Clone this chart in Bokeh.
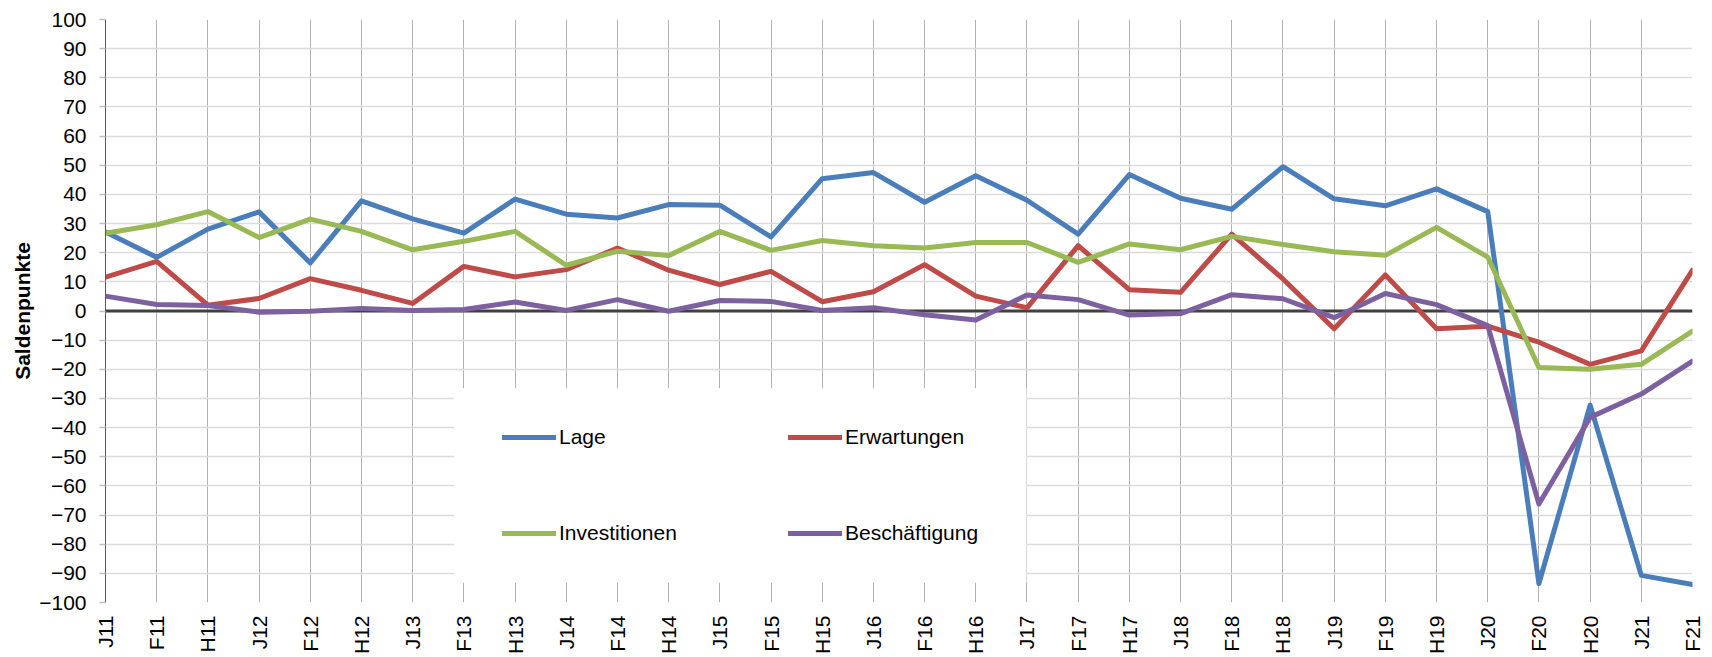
import math
from bokeh.plotting import figure
from bokeh.models import (Range1d, FixedTicker, Span, Legend, LegendItem,
                          BoxAnnotation, ColumnDataSource)
from bokeh.embed import file_html
from bokeh.resources import INLINE

categories = ["J11", "F11", "H11", "J12", "F12", "H12", "J13", "F13", "H13",
              "J14", "F14", "H14", "J15", "F15", "H15", "J16", "F16", "H16",
              "J17", "F17", "H17", "J18", "F18", "H18", "J19", "F19", "H19",
              "J20", "F20", "H20", "J21", "F21"]

lage = [27.1, 18.4, 28.1, 34.0, 16.5, 37.8, 31.6, 26.7, 38.4, 33.2, 31.9, 36.5,
        36.3, 25.4, 45.4, 47.5, 37.3, 46.4, 38.0, 26.4, 46.8, 38.7, 34.9, 49.5,
        38.5, 36.1, 41.9, 34.1, -93.5, -32.3, -90.7, -93.8]
erwartungen = [11.6, 17.0, 2.0, 4.3, 11.1, 7.1, 2.6, 15.3, 11.7, 14.2, 21.6, 14.0,
               9.1, 13.6, 3.2, 6.6, 15.9, 5.1, 1.1, 22.4, 7.3, 6.4, 26.4, 11.0,
               -6.1, 12.4, -6.1, -5.2, -10.7, -18.3, -13.7, 14.0]
investitionen = [26.7, 29.6, 34.1, 25.2, 31.5, 27.3, 21.0, 23.9, 27.3, 15.7, 20.5, 19.0,
                 27.3, 20.8, 24.2, 22.4, 21.6, 23.5, 23.5, 16.7, 23.0, 21.0, 25.6, 22.8,
                 20.3, 19.1, 28.7, 18.5, -19.4, -20.0, -18.3, -6.9]
beschaeftigung = [5.1, 2.2, 1.9, -0.4, -0.1, 0.9, 0.2, 0.5, 3.1, 0.2, 3.9, -0.1,
                  3.6, 3.3, 0.2, 1.1, -1.3, -3.1, 5.5, 3.9, -1.4, -0.9, 5.6, 4.2,
                  -2.3, 6.0, 2.2, -5.0, -66.2, -36.5, -28.5, -17.2]

series_names = ["Lage", "Erwartungen", "Investitionen", "Beschäftigung"]
series_colors = ["#4A7EBB", "#BE4B48", "#98B954", "#7D60A0"]

FONT = "Liberation Sans"
x_idx = list(range(len(categories)))

p = figure(width=1712, height=657, output_backend="svg", toolbar_location=None,
           x_range=Range1d(0, len(categories) - 1), y_range=Range1d(-100, 100),
           min_border_left=105, min_border_right=20, min_border_top=19,
           min_border_bottom=53)
p.outline_line_color = None
p.background_fill_color = "white"
p.border_fill_color = "white"

# grids
p.xgrid.ticker = FixedTicker(ticks=x_idx)
p.xgrid.grid_line_color = "#B2B2B2"
p.xgrid.grid_line_width = 1
p.ygrid.ticker = FixedTicker(ticks=list(range(-100, 101, 10)))
p.ygrid.grid_line_color = "#DCDCDC"
p.ygrid.grid_line_width = 1.5

# y axis
p.yaxis.ticker = FixedTicker(ticks=list(range(-100, 101, 10)))
p.yaxis.axis_line_color = "#595959"
p.yaxis.axis_line_width = 1
p.yaxis.major_tick_out = 6
p.yaxis.major_tick_in = 0
p.yaxis.major_tick_line_color = "#BFBFBF"
p.yaxis.major_tick_line_width = 1.5
p.yaxis.minor_tick_line_color = None
p.yaxis.minor_tick_out = 0
p.yaxis.major_label_standoff = 13
p.yaxis.major_label_text_font = FONT
p.yaxis.major_label_text_font_size = "21px"
p.yaxis.major_label_text_color = "black"
p.yaxis.axis_label = "Saldenpunkte"
p.yaxis.axis_label_text_font = FONT
p.yaxis.axis_label_text_font_size = "21px"
p.yaxis.axis_label_text_font_style = "bold"
p.yaxis.axis_label_text_color = "black"
p.yaxis.axis_label_standoff = 2

# x axis
p.xaxis.ticker = FixedTicker(ticks=x_idx)
p.xaxis.major_label_overrides = {i: c for i, c in enumerate(categories)}
p.xaxis.major_label_orientation = math.pi / 2
p.xaxis.axis_line_color = None
p.xaxis.major_tick_line_color = None
p.xaxis.major_tick_out = 0
p.xaxis.major_tick_in = 0
p.xaxis.minor_tick_line_color = None
p.xaxis.minor_tick_out = 0
p.xaxis.major_label_standoff = 13
p.xaxis.major_label_text_font = FONT
p.xaxis.major_label_text_font_size = "21px"
p.xaxis.major_label_text_color = "black"

# zero line
p.add_layout(Span(location=0, dimension="width", line_color="#404040",
                  line_width=3, level="underlay"))

renderers = []
for name, vals, col in zip(series_names,
                           [lage, erwartungen, investitionen, beschaeftigung],
                           series_colors):
    src = ColumnDataSource(data=dict(x=x_idx, y=vals))
    r = p.line("x", "y", source=src, line_color=col, line_width=5,
               line_join="round", line_cap="round")
    renderers.append(r)

# legend background box
p.add_layout(BoxAnnotation(left=6.81, right=17.99, top=-26.5, bottom=-93.2,
                           fill_color="white", fill_alpha=1.0, line_color=None))

def make_legend(items, loc):
    return Legend(items=items, location=loc, orientation="vertical",
                  glyph_width=54, glyph_height=24, label_height=24,
                  label_standoff=3, spacing=72, padding=0, margin=0,
                  border_line_color=None, background_fill_alpha=0,
                  label_text_font=FONT, label_text_font_size="21px",
                  label_text_color="black")

leg1 = make_legend([LegendItem(label=series_names[0], renderers=[renderers[0]]),
                    LegendItem(label=series_names[2], renderers=[renderers[2]])],
                   (397, 57))
leg2 = make_legend([LegendItem(label=series_names[1], renderers=[renderers[1]]),
                    LegendItem(label=series_names[3], renderers=[renderers[3]])],
                   (683, 57))
p.add_layout(leg1)
p.add_layout(leg2)

open("out.html", "w").write(file_html(p, INLINE))
